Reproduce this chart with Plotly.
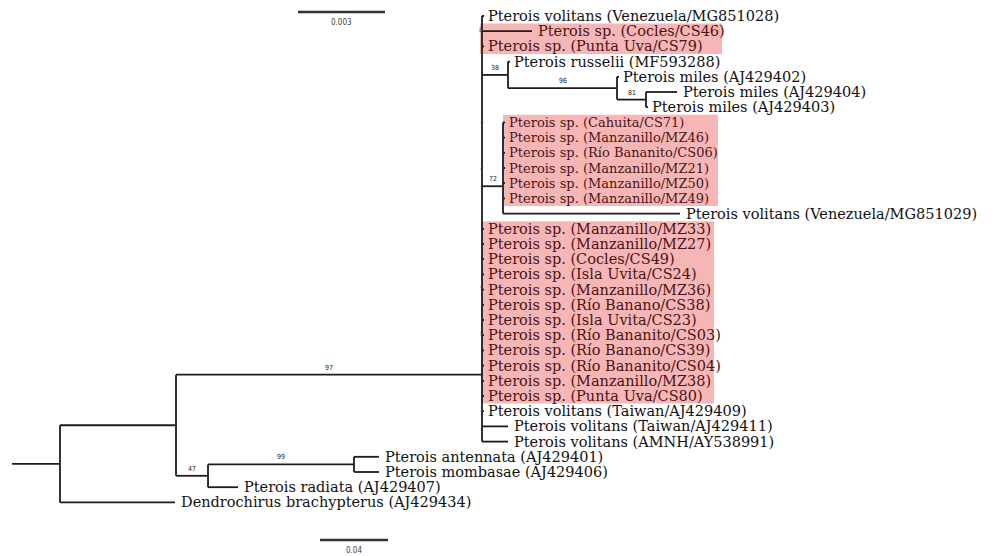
import plotly.graph_objects as go

# Terminal taxa, top to bottom
taxa = [
    "Pterois volitans (Venezuela/MG851028)",
    "Pterois sp. (Cocles/CS46)",
    "Pterois sp. (Punta Uva/CS79)",
    "Pterois russelii (MF593288)",
    "Pterois miles (AJ429402)",
    "Pterois miles (AJ429404)",
    "Pterois miles (AJ429403)",
    "Pterois sp. (Cahuita/CS71)",
    "Pterois sp. (Manzanillo/MZ46)",
    "Pterois sp. (Río Bananito/CS06)",
    "Pterois sp. (Manzanillo/MZ21)",
    "Pterois sp. (Manzanillo/MZ50)",
    "Pterois sp. (Manzanillo/MZ49)",
    "Pterois volitans (Venezuela/MG851029)",
    "Pterois sp. (Manzanillo/MZ33)",
    "Pterois sp. (Manzanillo/MZ27)",
    "Pterois sp. (Cocles/CS49)",
    "Pterois sp. (Isla Uvita/CS24)",
    "Pterois sp. (Manzanillo/MZ36)",
    "Pterois sp. (Río Banano/CS38)",
    "Pterois sp. (Isla Uvita/CS23)",
    "Pterois sp. (Río Bananito/CS03)",
    "Pterois sp. (Río Banano/CS39)",
    "Pterois sp. (Río Bananito/CS04)",
    "Pterois sp. (Manzanillo/MZ38)",
    "Pterois sp. (Punta Uva/CS80)",
    "Pterois volitans (Taiwan/AJ429409)",
    "Pterois volitans (Taiwan/AJ429411)",
    "Pterois volitans (AMNH/AY538991)",
    "Pterois antennata (AJ429401)",
    "Pterois mombasae (AJ429406)",
    "Pterois radiata (AJ429407)",
    "Dendrochirus brachypterus (AJ429434)",
]

# Terminal branch lengths (drawing units), same order as taxa
tip_lengths = [0, 50, 0, 0, 0, 31, 0,
               0, 0, 0, 0, 0, 0, 177,
               0, 0, 0, 0, 0, 0, 0, 0, 0, 0, 0, 0,
               0, 26, 26,
               25, 25, 30, 115]

# Samples collected in Costa Rica (highlighted blocks, first/last row)
highlight_blocks = [(1, 2), (7, 12), (14, 25)]

# Internal branches: length, bootstrap support, children (leaf index or subtree)
tree = {"len": 48, "children": [
    {"len": 116, "children": [
        {"len": 306, "support": 97, "attach": 23.6, "children": [
            0, 1, 2,
            {"len": 26, "support": 38, "children": [
                3,
                {"len": 109, "support": 96, "children": [
                    4,
                    {"len": 29, "support": 81, "children": [5, 6]},
                ]},
            ]},
            {"len": 21, "support": 72, "attach": 11.2,
             "children": [7, 8, 9, 10, 11, 12, 13]},
            14, 15, 16, 17, 18, 19, 20, 21, 22, 23, 24, 25,
            26, 27, 28,
        ]},
        {"len": 32, "support": 47, "children": [
            {"len": 146, "support": 99, "children": [29, 30]},
            31,
        ]},
    ]},
    32,
]}

# Supports of the collapsed, near-zero internal nodes in the ingroup (row, value)
collapsed_support = [(1, 8), (7, 3), (10, 3), (18, 5), (21, 5), (26, 3)]

# Scale bars: value and drawn length in drawing units
scale_values = ["0.003", "0.04"]
scale_lengths = [87, 68]

# ---------------------------------------------------------------- layout
X0 = 12          # start of the root stem
ROW0, ROW_H = 16, 15.2
TREE_COL = "#1c1c1c"
TEXT_COL = "#111111"
HL_TEXT = "#4a1414"
HL_FILL = "#f7b6b6"
LABEL_FONT = "DejaVu Serif"
LABEL_SIZE = 14.5
COMPACT_SIZE = 13          # labels of the second highlighted block
compact_rows = set(range(highlight_blocks[1][0], highlight_blocks[1][1] + 1))


def row_y(i):
    return ROW0 + ROW_H * i


seg_x, seg_y = [], []
annotations = []
shapes = []


def seg(x1, y1, x2, y2):
    seg_x.extend([x1, x2, None])
    seg_y.extend([y1, y2, None])


highlighted = set()
for a, b in highlight_blocks:
    highlighted.update(range(a, b + 1))


def draw(node, x_start):
    """Draw a node whose branch starts at x_start; returns its y."""
    if isinstance(node, int):
        y = row_y(node)
        x_end = x_start + tip_lengths[node]
        seg(x_start, y, max(x_end, x_start + 2), y)
        annotations.append(dict(
            x=x_end + 4, y=y, text=taxa[node], showarrow=False,
            xanchor="left", yanchor="middle",
            font=dict(family=LABEL_FONT,
                      size=COMPACT_SIZE if node in compact_rows else LABEL_SIZE,
                      color=HL_TEXT if node in highlighted else TEXT_COL)))
        return y
    x_node = x_start + node["len"]
    child_y = [draw(c, x_node) for c in node["children"]]
    seg(x_node, min(child_y), x_node, max(child_y))
    if "attach" in node:
        y = row_y(node["attach"])
    else:
        y = (child_y[0] + child_y[-1]) / 2
    seg(x_start, y, x_node, y)
    if "support" in node:
        annotations.append(dict(
            x=(x_start + x_node) / 2, y=y - 7, text=str(node["support"]),
            showarrow=False, xanchor="center", yanchor="middle",
            font=dict(family="DejaVu Sans Condensed", size=7, color="#222")))
    node["_x"] = x_node
    return y


y_root = draw(tree, X0)
ingroup_x = tree["children"][0]["children"][0]["_x"]

for r, v in collapsed_support:
    annotations.append(dict(
        x=ingroup_x - 1, y=row_y(r) - 2, text=str(v), showarrow=False,
        xanchor="center", yanchor="middle",
        font=dict(family="DejaVu Sans Condensed", size=6, color="#444")))

# highlight boxes
box_x = [(480, 722), (503, 718), (482, 714)]
for (a, b), (xl, xr) in zip(highlight_blocks, box_x):
    shapes.append(dict(type="rect", layer="below", x0=xl, x1=xr,
                       y0=row_y(a) - ROW_H / 2, y1=row_y(b) + ROW_H / 2,
                       fillcolor=HL_FILL, line=dict(width=0)))

# scale bars
scale_pos = [(298, 12), (320, 540)]
for val, length, (sx, sy) in zip(scale_values, scale_lengths, scale_pos):
    shapes.append(dict(type="line", x0=sx, x1=sx + length, y0=sy, y1=sy,
                       line=dict(color="#333", width=2.5)))
    annotations.append(dict(
        x=sx + length / 2, y=sy + 10, text=val, showarrow=False,
        xanchor="center", yanchor="middle",
        font=dict(family="DejaVu Sans Condensed", size=8, color="#444")))

fig = go.Figure(go.Scatter(x=seg_x, y=seg_y, mode="lines",
                           line=dict(color=TREE_COL, width=1.8),
                           hoverinfo="skip", showlegend=False))
fig.update_layout(
    width=999, height=556, autosize=False,
    margin=dict(l=0, r=0, t=0, b=0),
    paper_bgcolor="white", plot_bgcolor="white",
    xaxis=dict(range=[0, 999], visible=False, fixedrange=True),
    yaxis=dict(range=[556, 0], visible=False, fixedrange=True),
    annotations=annotations, shapes=shapes,
)
fig.write_html("out.html")
